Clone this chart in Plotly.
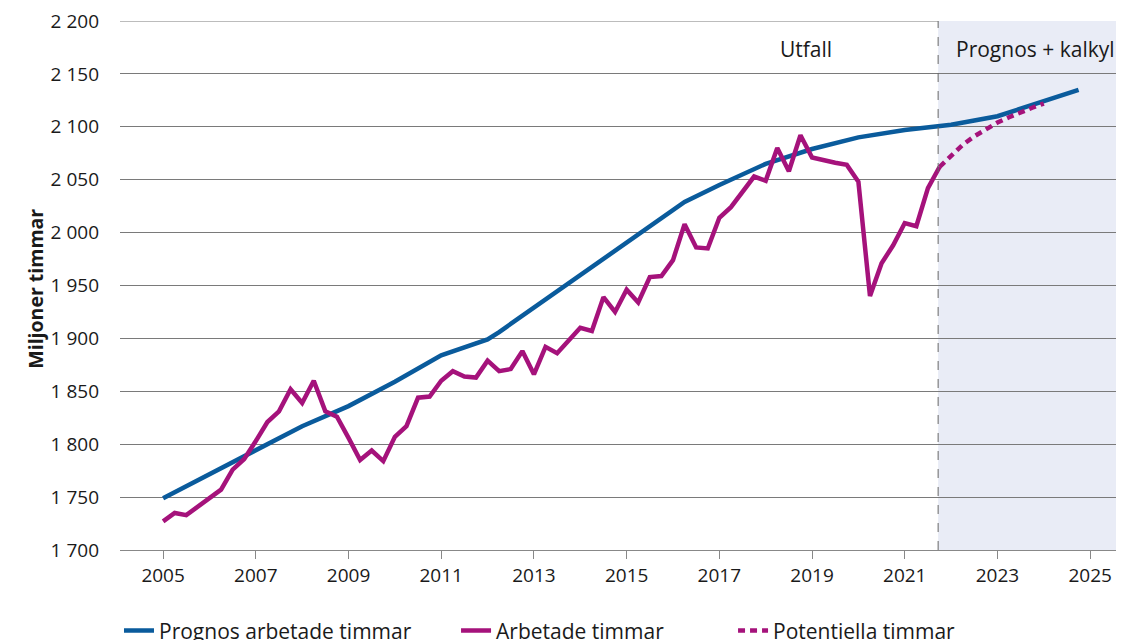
import plotly.graph_objects as go

# ---------------- data ----------------
quarters = [2005 + i * 0.25 for i in range(68)]  # 2005Q1 .. 2021Q4
arbetade = [
    1727, 1735, 1733, 1741, 1749, 1757, 1776, 1786,
    1803, 1821, 1831, 1852, 1839, 1860, 1831, 1826,
    1806, 1785, 1794, 1784, 1807, 1817, 1844, 1845,
    1860, 1869, 1864, 1863, 1879, 1869, 1871, 1888,
    1866, 1892, 1886, 1898, 1910, 1907, 1939, 1925,
    1946, 1934, 1958, 1959, 1974, 2008, 1986, 1985,
    2014, 2024, 2039, 2053, 2049, 2080, 2058, 2092,
    2071, 2068, 2066, 2064, 2048, 1940, 1971, 1988,
    2009, 2006, 2042, 2062,
]

prognos_x = [2005, 2006, 2007, 2008, 2009, 2010, 2011, 2012, 2012.25, 2013, 2014,
             2015, 2016, 2016.25, 2017, 2018, 2019, 2020, 2021, 2022, 2023, 2024, 2024.75]
prognos_y = [1749, 1772, 1795, 1817, 1836, 1859, 1884, 1899, 1906, 1929, 1960,
             1990, 2021, 2029, 2045, 2065, 2079, 2090, 2097, 2102, 2110, 2124, 2135]

potentiella_x = [2021.75, 2022.0, 2022.25, 2022.5, 2022.75, 2023.0, 2023.25, 2023.5, 2023.75, 2024.0]
potentiella_y = [2062, 2073, 2083, 2091, 2098, 2104, 2109, 2114, 2118, 2122]

y_ticks = [1700, 1750, 1800, 1850, 1900, 1950, 2000, 2050, 2100, 2150, 2200]
y_ticktext = ["1 700", "1 750", "1 800", "1 850", "1 900", "1 950", "2 000", "2 050", "2 100", "2 150", "2 200"]
x_ticks = [2005, 2007, 2009, 2011, 2013, 2015, 2017, 2019, 2021, 2023, 2025]

split_year = 2021.72
x_range = [2004.07, 2025.73]

BLUE = "#0a5b9c"
PURPLE = "#a5127b"
FONT = "Open Sans"
TXT = "#1a1a1a"
GRID = "#7a7a7a"

fig = go.Figure()

fig.add_trace(go.Scatter(
    x=prognos_x, y=prognos_y, mode="lines", name="Prognos arbetade timmar",
    line=dict(color=BLUE, width=4.5), legend="legend"))
fig.add_trace(go.Scatter(
    x=quarters, y=arbetade, mode="lines", name="Arbetade timmar",
    line=dict(color=PURPLE, width=4.5), legend="legend2"))
fig.add_trace(go.Scatter(
    x=potentiella_x, y=potentiella_y, mode="lines", name="Potentiella timmar",
    line=dict(color=PURPLE, width=4.5, dash="7px,5px"), legend="legend3"))

# shaded forecast region + divider
fig.add_shape(type="rect", xref="x", yref="y", x0=split_year, x1=x_range[1],
              y0=1700, y1=2200, fillcolor="#e9ecf6", line_width=0, layer="below")
fig.add_shape(type="line", xref="x", yref="y", x0=split_year, x1=split_year,
              y0=1700, y1=2200, line=dict(color="#666666", width=1, dash="dash"))
# top gridline (2 200) drawn at the edge of the plot area
fig.add_shape(type="line", xref="paper", yref="y", x0=0, x1=1,
              y0=y_ticks[-1], y1=y_ticks[-1], line=dict(color=GRID, width=1), layer="below")

fig.add_annotation(x=2018.87, y=2174, xref="x", yref="y", text="Utfall", showarrow=False,
                   font=dict(size=21, color=TXT, family=FONT))
fig.add_annotation(x=2023.83, y=2174, xref="x", yref="y", text="Prognos + kalkyl", showarrow=False,
                   font=dict(size=21, color=TXT, family=FONT))
fig.add_annotation(x=-0.0996, y=0.493, xref="paper", yref="paper", text="<b>Miljoner timmar</b>",
                   textangle=-90, showarrow=False, font=dict(size=19.5, color=TXT, family=FONT))

leg_common = dict(orientation="h", yanchor="middle", y=-0.153, xanchor="left",
                  font=dict(size=21, color=TXT, family=FONT), bgcolor="rgba(0,0,0,0)")
# the page adds an 8px body margin, so the figure is drawn 8px smaller
fig.update_layout(
    width=1116, height=632,
    margin=dict(l=112, r=0, t=13, b=90, autoexpand=False),
    paper_bgcolor="white", plot_bgcolor="white",
    font=dict(family=FONT, size=17, color=TXT),
    showlegend=True,
    legend=dict(x=-0.001, **leg_common),
    legend2=dict(x=0.3347, **leg_common),
    legend3=dict(x=0.6106, **leg_common),
    xaxis=dict(range=x_range, tickvals=x_ticks, showgrid=False, zeroline=False,
               automargin=False,
               ticks="outside", ticklen=8, tickcolor="#888888", tickwidth=1,
               showline=True, linecolor="#888888", linewidth=1,
               tickfont=dict(size=19, family=FONT, color=TXT)),
    yaxis=dict(range=[1700, 2200], tickvals=y_ticks, ticktext=y_ticktext,
               automargin=False, ticklabeloverflow="allow",
               showgrid=True, gridcolor=GRID, gridwidth=1, zeroline=False,
               showline=False, ticks="", ticklabelstandoff=20,
               tickfont=dict(size=19, family=FONT, color=TXT)),
)

fig.write_html("out.html")
